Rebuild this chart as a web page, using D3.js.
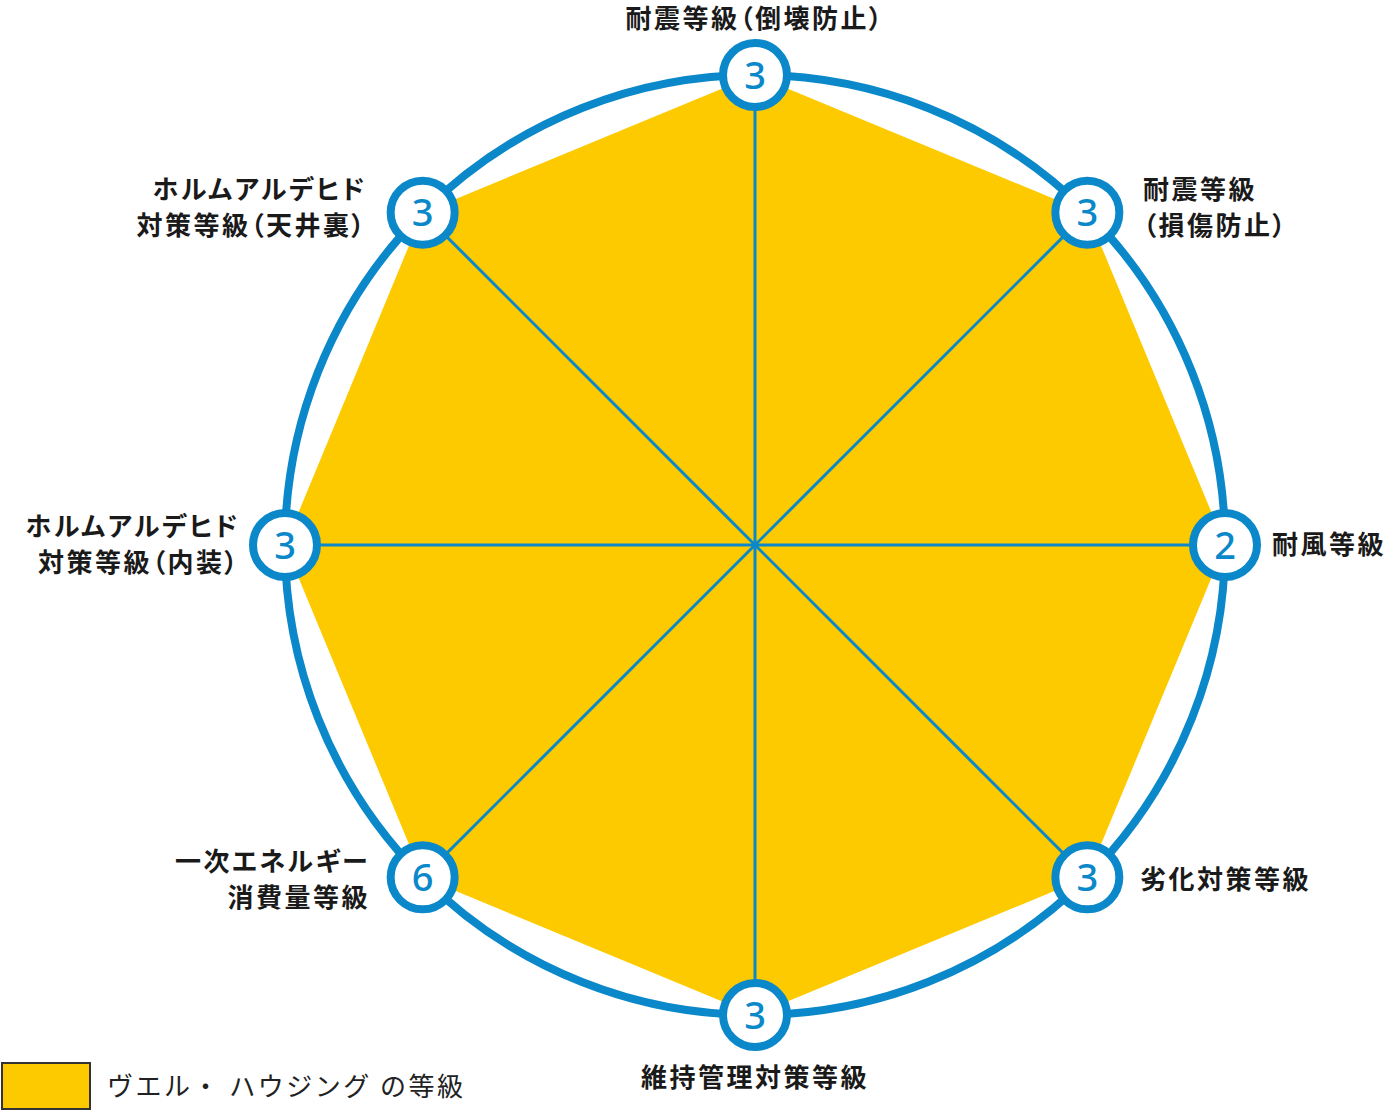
<!DOCTYPE html>
<html>
<head>
<meta charset="utf-8">
<script src="https://cdn.jsdelivr.net/npm/d3@7"></script>
<style>
  body { margin: 0; background: #fff; }
  svg text { font-family: "Noto Sans CJK JP", "Noto Sans", sans-serif; }
</style>
</head>
<body>
<div id="chart"></div>
<script>
// axis order: clockwise from top
const labels = [
    ['耐震等級（倒壊防止）'],
    ['耐震等級', '（損傷防止）'],
    ['耐風等級'],
    ['劣化対策等級'],
    ['維持管理対策等級'],
    ['一次エネルギー', '消費量等級'],
    ['ホルムアルデヒド', '対策等級（内装）'],
    ['ホルムアルデヒド', '対策等級（天井裏）']
]
const grades = [3, 3, 2, 3, 3, 6, 3, 3]
const maxGrades = [3, 3, 2, 3, 3, 6, 3, 3]
const legendLabel = 'ヴエル・ ハウジング の等級'

const width = 1385
const height = 1112
const cx = 755, cy = 545
const R = 470

const blue = '#0a88c9'
const yellow = '#fdca00'

const svg = d3.select('#chart').append('svg')
    .attr('width', width)
    .attr('height', height)

const g = svg.append('g')
    .attr('transform', `translate(${cx},${cy})`)

const rScale = d3.scaleLinear()
    .domain([0, 1])
    .range([0, R])

const angle = d3.scaleLinear()
    .domain([0, labels.length])
    .range([0, 2 * Math.PI])

const pt = (i, v) => {
    const a = angle(i)
    return [Math.sin(a) * rScale(v), -Math.cos(a) * rScale(v)]
}

/*
 * Filled polygon
 */
const line = d3.line()
    .x(d => d[0])
    .y(d => d[1])
    .curve(d3.curveLinearClosed)

g.append('path')
    .datum(grades.map((d, i) => pt(i, d / maxGrades[i])))
    .attr('d', line)
    .style('fill', yellow)

/* spokes */
g.selectAll('.spoke')
    .data(labels)
    .join('line')
    .attr('class', 'spoke')
    .attr('x1', 0).attr('y1', 0)
    .attr('x2', (d, i) => pt(i, 1)[0])
    .attr('y2', (d, i) => pt(i, 1)[1])
    .style('stroke', blue)
    .style('stroke-width', 3)

/* outer ring */
g.append('circle')
    .attr('r', rScale(1))
    .style('fill', 'none')
    .style('stroke', blue)
    .style('stroke-width', 8)

/* markers */
const marker = g.selectAll('.marker')
    .data(grades)
    .join('g')
    .attr('class', 'marker')
    .attr('transform', (d, i) => `translate(${pt(i, 1)})`)

marker.append('circle')
    .attr('r', 32)
    .style('fill', '#fff')
    .style('stroke', blue)
    .style('stroke-width', 8)

marker.append('text')
    .attr('text-anchor', 'middle')
    .attr('dy', '0.36em')
    .style('font-family', '"Noto Sans", sans-serif')
    .style('font-size', '38px')
    .style('font-weight', 500)
    .style('fill', blue)
    .text(d => d)

/*
 * Axis labels. Placement per direction.
 */
const labelPos = [
    { dx: 0, dy: -526, anchor: 'middle' },
    { dx: 388, dy: -337, anchor: 'start' },
    { dx: 517, dy: 0, anchor: 'start' },
    { dx: 385, dy: 335, anchor: 'start' },
    { dx: 0, dy: 533, anchor: 'middle' },
    { dx: -385, dy: 335, anchor: 'end' },
    { dx: -515, dy: 0, anchor: 'end' },
    { dx: -388, dy: -337, anchor: 'end' }
]
const lineH = 36

labels.forEach((lines, i) => {
    const p = labelPos[i]
    const y0 = p.dy - (lines.length - 1) * lineH / 2
    const t = g.append('text')
        .attr('text-anchor', p.anchor)
        .style('font-size', '26px')
        .style('font-weight', 700)
        .style('letter-spacing', '2.5px')
        .style('font-feature-settings', '"palt"')
        .style('fill', '#1a1a1a')
    lines.forEach((s, k) => {
        t.append('tspan')
            .attr('x', p.dx)
            .attr('y', y0 + k * lineH)
            .attr('dy', '0.36em')
            .text(s)
    })
})

/* legend */
svg.append('rect')
    .attr('x', 2).attr('y', 1063)
    .attr('width', 88).attr('height', 46)
    .style('fill', yellow)
    .style('stroke', '#333')
    .style('stroke-width', 2)

svg.append('text')
    .attr('x', 107).attr('y', 1087)
    .attr('dy', '0.36em')
    .attr('textLength', 356)
    .attr('lengthAdjust', 'spacing')
    .style('font-size', '26px')
    .style('fill', '#222')
    .text(legendLabel)
</script>
</body>
</html>
